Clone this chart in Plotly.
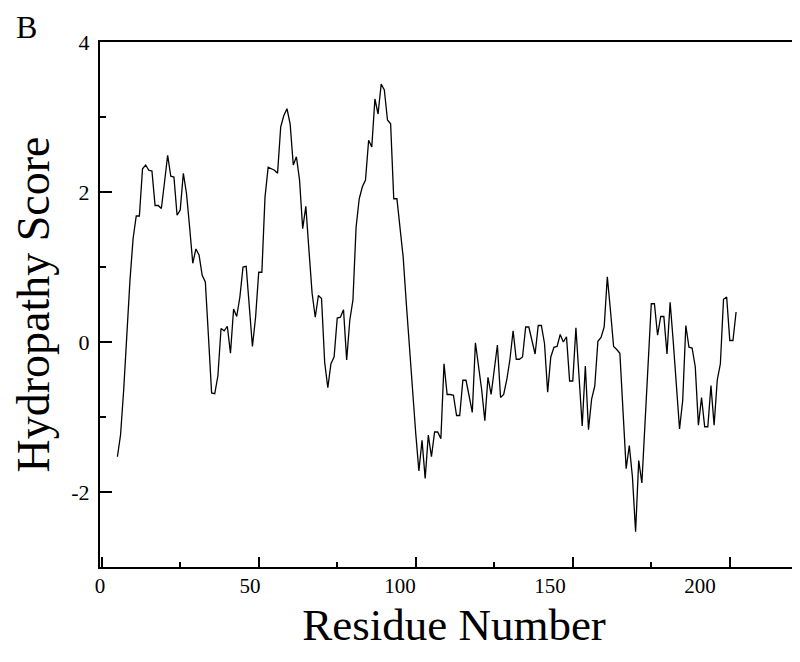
import plotly.graph_objects as go

# ---- data ----
residues = list(range(5, 203))
scores = [
    -1.53, -1.24, -0.64, 0.16, 0.82, 1.38, 1.68, 1.68, 2.31, 2.36,   # 5-14
    2.29, 2.28, 1.82, 1.82, 1.78, 2.13, 2.49, 2.21, 2.20, 1.69,      # 15-24
    1.76, 2.25, 1.98, 1.53, 1.05, 1.24, 1.16, 0.89, 0.80, 0.07,      # 25-34
    -0.68, -0.69, -0.45, 0.18, 0.15, 0.21, -0.15, 0.44, 0.34, 0.60,  # 35-44
    1.00, 1.01, 0.51, -0.06, 0.33, 0.93, 0.93, 1.93, 2.33, 2.31,     # 45-54
    2.29, 2.25, 2.87, 3.02, 3.11, 2.91, 2.36, 2.47, 2.16, 1.51,      # 55-64
    1.81, 1.22, 0.65, 0.33, 0.62, 0.58, -0.27, -0.61, -0.29, -0.20,  # 65-74
    0.32, 0.33, 0.43, -0.24, 0.29, 0.56, 1.53, 1.91, 2.07, 2.16,     # 75-84
    2.69, 2.60, 3.24, 3.04, 3.44, 3.36, 2.96, 2.91, 1.91, 1.91,      # 85-94
    1.53, 1.13, 0.51, -0.10, -0.64, -1.22, -1.72, -1.31, -1.82, -1.24,  # 95-104
    -1.53, -1.20, -1.20, -1.29, -0.29, -0.70, -0.70, -0.71, -0.98, -0.98,  # 105-114
    -0.51, -0.51, -0.72, -0.94, -0.01, -0.30, -0.64, -1.05, -0.47, -0.70,  # 115-124
    -0.34, -0.04, -0.74, -0.70, -0.50, -0.23, 0.15, -0.23, -0.23, -0.20,   # 125-134
    0.20, 0.20, 0.02, -0.16, 0.22, 0.22, -0.02, -0.67, -0.20, -0.07,       # 135-144
    -0.06, 0.10, 0.00, 0.07, -0.52, -0.52, 0.19, -0.55, -1.12, -0.32,      # 145-154
    -1.17, -0.76, -0.59, 0.01, 0.06, 0.20, 0.87, 0.42, -0.06, -0.10,       # 155-164
    -0.15, -0.92, -1.69, -1.38, -1.80, -2.53, -1.58, -1.88, -1.04, -0.25,  # 165-174
    0.51, 0.51, 0.09, 0.34, 0.34, -0.16, 0.53, 0.00, -0.60, -1.16,         # 175-184
    -0.78, 0.22, -0.07, -0.08, -0.33, -1.11, -0.74, -1.13, -1.13, -0.58,   # 185-194
    -1.11, -0.51, -0.29, 0.57, 0.60, 0.02, 0.02, 0.40,                     # 195-202
]

x_label_values = [0, 50, 100, 150, 200]
x_label_text = ["0", "50", "100", "150", "200"]
x_major_ticks = [0, 50, 100, 150, 200]
x_minor_ticks = [25, 75, 125, 175]
y_label_values = [-2, 0, 2, 4]
y_label_text = ["-2", "0", "2", "4"]
y_minor_ticks = [-1, 1, 3]

FONT = "Liberation Serif, Times New Roman, serif"

fig = go.Figure()
fig.add_trace(go.Scatter(
    x=residues, y=scores, mode="lines",
    line=dict(color="black", width=1.3),
    showlegend=False, hoverinfo="skip",
))
# empty trace so that the label axis (x2) is rendered
fig.add_trace(go.Scatter(x=[], y=[], xaxis="x2", yaxis="y",
                         showlegend=False, hoverinfo="skip"))

fig.update_layout(
    width=800, height=662,
    margin=dict(l=92, r=0, t=34, b=103),
    paper_bgcolor="white", plot_bgcolor="white",
    font=dict(family=FONT, color="black", size=20),
    xaxis=dict(
        range=[-0.54, 224.9], automargin=False,
        tickmode="array", tickvals=x_major_ticks,
        ticks="inside", ticklen=10, tickwidth=1.5, tickcolor="black",
        showticklabels=False,
        minor=dict(tickmode="array", tickvals=x_minor_ticks, ticks="inside",
                   ticklen=5, tickwidth=1.5, tickcolor="black", showgrid=False),
        showline=True, linecolor="black", linewidth=2, mirror=True,
        showgrid=False, zeroline=False,
        title=dict(text="Residue Number", font=dict(family=FONT, size=45, color="black"),
                   standoff=40),
    ),
    xaxis2=dict(
        overlaying="x", anchor="y", side="bottom", automargin=False,
        range=[0, 236.0],
        tickmode="array", tickvals=x_label_values, ticktext=x_label_text,
        ticks="", showline=False, showgrid=False, zeroline=False,
        tickfont=dict(family=FONT, size=21, color="black"),
        ticklabelstandoff=4,
    ),
    yaxis=dict(
        range=[-3, 4], automargin=False,
        tickmode="array", tickvals=y_label_values, ticktext=y_label_text,
        ticks="inside", ticklen=12, tickwidth=1.5, tickcolor="black",
        minor=dict(tickmode="array", tickvals=y_minor_ticks, ticks="inside",
                   ticklen=6, tickwidth=1.5, tickcolor="black", showgrid=False),
        tickfont=dict(family=FONT, size=22, color="black"),
        ticklabelstandoff=4,
        showline=True, linecolor="black", linewidth=2, mirror=False,
        showgrid=False, zeroline=False,
        title=dict(text="Hydropathy Score", font=dict(family=FONT, size=46, color="black"),
                   standoff=22),
    ),
    annotations=[dict(
        text="B", xref="paper", yref="paper", x=-0.1045, y=1.0286,
        xanchor="center", yanchor="middle", showarrow=False,
        font=dict(family=FONT, size=32, color="black"),
    )],
)

fig.write_html("out.html")
